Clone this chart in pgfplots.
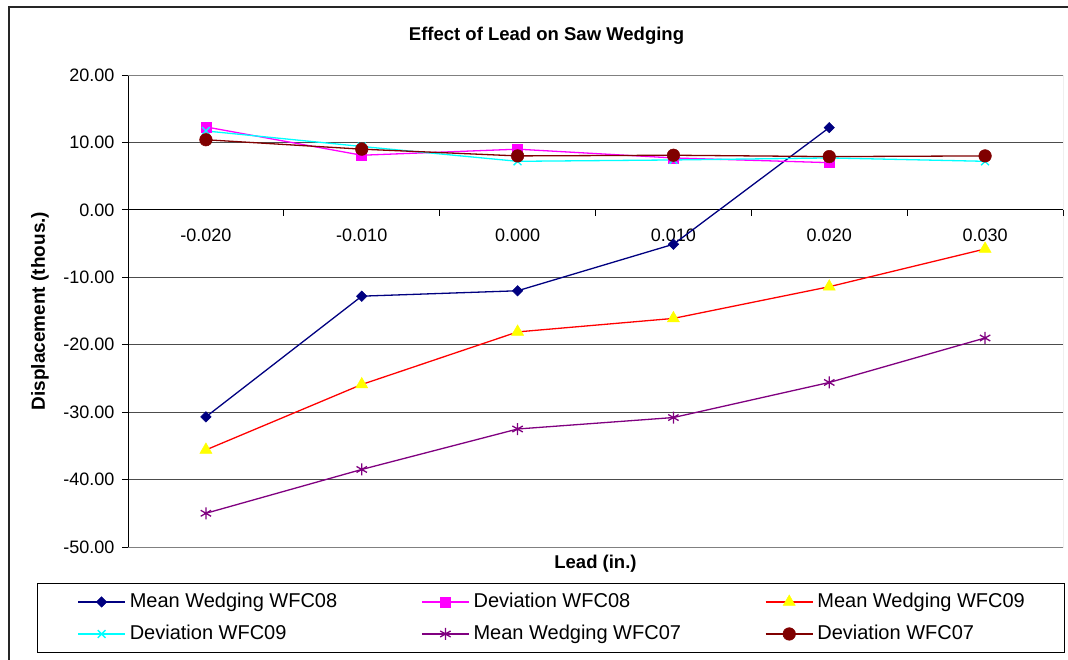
\documentclass[border=0pt]{standalone}
\usepackage{pgfplots}
\pgfplotsset{compat=1.18}
\usepackage{fontspec}
\setmainfont{Liberation Sans}

\definecolor{xlnavy}{HTML}{000080}
\definecolor{xlmagenta}{HTML}{FF00FF}
\definecolor{xlred}{HTML}{FF0000}
\definecolor{xlyellow}{HTML}{FFFF00}
\definecolor{xlcyan}{HTML}{00FFFF}
\definecolor{xlpurple}{HTML}{800080}
\definecolor{xlmaroon}{HTML}{800000}

\begin{document}
\begin{tikzpicture}
\useasboundingbox (-128bp,-113bp) rectangle (940bp,547bp);
% chart area frame (cut off at right and bottom)
\draw[line width=1.3bp, black!85] (-119bp,-113bp) -- (-119bp,540bp) -- (940bp,540bp);

\begin{axis}[
  at={(0,0)}, anchor=south west,
  scale only axis, width=935bp, height=472bp,
  xmin=-0.5, xmax=5.5, ymin=-50, ymax=20,
  axis x line*=middle, axis y line*=left,
  axis line style={-, line width=0.9bp, black},
  xtick={0,...,5},
  xticklabels={-0.020,-0.010,0.000,0.010,0.020,0.030},
  minor xtick={0.5,1.5,2.5,3.5,4.5,5.5},
  ytick={-50,-40,...,20},
  tick align=outside,
  major tick length=6bp, minor tick length=6bp,
  major x tick style={draw=none},
  tick style={black, line width=0.9bp},
  ymajorgrids, grid style={black!70, line width=0.9bp},
  tick label style={font=\fontsize{18bp}{20bp}\selectfont},
  xticklabel style={yshift=-10bp},
  yticklabel style={xshift=-4bp, /pgf/number format/.cd, fixed, fixed zerofill, precision=2, assume math mode=true},
  title={Effect of Lead on Saw Wedging},
  title style={at={(axis description cs:0.4476,1.0614)}, anchor=base, font=\bfseries\fontsize{18.5bp}{20bp}\selectfont},
  xlabel={Lead (in.)},
  xlabel style={at={(axis description cs:0.5,-0.0466)}, anchor=base, font=\bfseries\fontsize{18.5bp}{20bp}\selectfont},
  ylabel={Displacement (thous.)},
  ylabel style={at={(axis description cs:-0.0888,0.5)}, anchor=base, rotate=0, font=\bfseries\fontsize{19bp}{20bp}\selectfont},
  every axis plot/.append style={line width=1.3bp},
  legend columns=3,
  legend style={at={(axis description cs:-0.0973,-0.0763)}, anchor=north west,
    draw=black, line width=0.9bp, inner xsep=40bp, inner ysep=9bp,
    font=\fontsize{20bp}{22bp}\selectfont,
    nodes={inner sep=0pt, text height=15bp, text depth=4bp},
    /tikz/every odd column/.append style={column sep=4bp},
    /tikz/every even column/.append style={column sep=84bp},
    row sep=13bp},
  legend cell align=left,
  legend image code/.code={\draw[mark repeat=2,mark phase=2] plot coordinates {(0bp,0bp) (23.5bp,0bp) (47bp,0bp)};},
]
\draw[black!50, line width=0.9bp] (rel axis cs:0,1) -- (rel axis cs:1,1) -- (rel axis cs:1,0) -- (rel axis cs:0,0);

\addplot[color=xlnavy, mark=square*, mark size=3.7bp, mark options={rotate=45, line width=0.5bp}] coordinates
  {(0,-30.7) (1,-12.8) (2,-12.0) (3,-5.1) (4,12.2)};
\addplot[color=xlmagenta, mark=square*, mark size=5bp, mark options={line width=0.5bp}] coordinates
  {(0,12.3) (1,8.1) (2,9.0) (3,7.7) (4,7.0)};
\addplot[color=xlred, mark=triangle*, mark size=7bp, mark options={fill=xlyellow, draw=xlyellow, line width=0.5bp}] coordinates
  {(0,-35.6) (1,-25.9) (2,-18.1) (3,-16.1) (4,-11.4) (5,-5.8)};
\addplot[color=xlcyan, mark=x, mark size=5.5bp] coordinates
  {(0,11.7) (1,9.4) (2,7.2) (3,7.4) (4,7.7) (5,7.2)};
\addplot[color=xlpurple, mark=asterisk, mark size=6bp] coordinates
  {(0,-45.0) (1,-38.5) (2,-32.5) (3,-30.8) (4,-25.6) (5,-19.0)};
\addplot[color=xlmaroon, mark=*, mark size=6.3bp, mark options={line width=0.5bp}] coordinates
  {(0,10.4) (1,9.0) (2,8.0) (3,8.1) (4,7.9) (5,8.0)};

\legend{Mean Wedging WFC08, Deviation WFC08, Mean Wedging WFC09, Deviation WFC09, Mean Wedging WFC07, Deviation WFC07}
\end{axis}
\end{tikzpicture}
\end{document}
